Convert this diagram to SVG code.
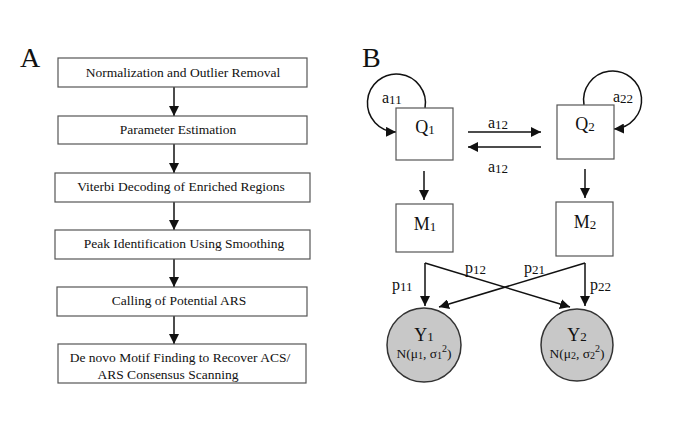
<svg xmlns="http://www.w3.org/2000/svg" width="685" height="440" viewBox="0 0 685 440">
<defs>
<style>
text{font-family:"Liberation Serif","Times New Roman",serif;fill:#111}
.step{font-size:13.5px;text-anchor:middle}
.nm{font-size:13.5px;text-anchor:middle}
.box{fill:#fff;stroke:#555;stroke-width:1.2}
.big{font-size:28px}
.lbl{font-size:18px;text-anchor:middle}
.sub{font-size:13px}
.sm{font-size:16px}
.ln{fill:none;stroke:#111;stroke-width:1.5}
.circ{fill:#c8c8c8;stroke:#333;stroke-width:1.5}
</style>
<marker id="ah" viewBox="0 0 10 10" refX="10" refY="5" markerWidth="10" markerHeight="10" markerUnits="userSpaceOnUse" orient="auto">
<path d="M0,0 L10,5 L0,10 z" fill="#111"/>
</marker>
</defs>
<rect width="685" height="440" fill="#fff"/>
<text class="big" x="20" y="67">A</text>
<text class="big" x="362" y="67">B</text>

<g id="connectors">
<line class="ln" x1="174" y1="87" x2="174" y2="116" marker-end="url(#ah)"/>
<line class="ln" x1="174" y1="144" x2="174" y2="173" marker-end="url(#ah)"/>
<line class="ln" x1="174" y1="202" x2="174" y2="230" marker-end="url(#ah)"/>
<line class="ln" x1="174" y1="259" x2="174" y2="287" marker-end="url(#ah)"/>
<line class="ln" x1="174" y1="316" x2="174" y2="344" marker-end="url(#ah)"/>
<path class="ln" d="M425,108 A29,29 0 1 0 396,132" marker-end="url(#ah)"/>
<path class="ln" d="M584,105 A29,29 0 1 1 614,129" marker-end="url(#ah)"/>
<line class="ln" x1="468" y1="132" x2="541" y2="132" marker-end="url(#ah)"/>
<line class="ln" x1="541" y1="147" x2="468" y2="147" marker-end="url(#ah)"/>
<line class="ln" x1="424" y1="171" x2="424" y2="200" marker-end="url(#ah)"/>
<line class="ln" x1="585" y1="169" x2="585" y2="198" marker-end="url(#ah)"/>
<line class="ln" x1="425" y1="263" x2="425" y2="306" marker-end="url(#ah)"/>
<line class="ln" x1="425" y1="263" x2="570" y2="307" marker-end="url(#ah)"/>
<line class="ln" x1="585" y1="263" x2="585" y2="306" marker-end="url(#ah)"/>
<line class="ln" x1="585" y1="263" x2="439" y2="307" marker-end="url(#ah)"/>
<text class="sm" x="382" y="103">a<tspan class="sub" dy="1">11</tspan></text>
<text class="sm" x="613" y="102">a<tspan class="sub" dy="1">22</tspan></text>
<text class="sm" x="488" y="128">a<tspan class="sub" dy="1">12</tspan></text>
<text class="sm" x="488" y="172">a<tspan class="sub" dy="1">12</tspan></text>
<text class="sm" x="392" y="290">p<tspan class="sub" dy="1">11</tspan></text>
<text class="sm" x="465" y="273">p<tspan class="sub" dy="1">12</tspan></text>
<text class="sm" x="524" y="273">p<tspan class="sub" dy="1">21</tspan></text>
<text class="sm" x="590" y="290">p<tspan class="sub" dy="1">22</tspan></text>
</g>

<g id="step1"><rect class="box" x="58" y="58" width="249" height="29"/><text class="step" x="183" y="77">Normalization and Outlier Removal</text></g>
<g id="step2"><rect class="box" x="58" y="116" width="249" height="28"/><text class="step" x="178" y="134">Parameter Estimation</text></g>
<g id="step3"><rect class="box" x="55" y="173" width="255" height="29"/><text class="step" x="181" y="191">Viterbi Decoding of Enriched Regions</text></g>
<g id="step4"><rect class="box" x="55" y="230" width="255" height="29"/><text class="step" x="184" y="248">Peak Identification Using Smoothing</text></g>
<g id="step5"><rect class="box" x="57" y="287" width="250" height="29"/><text class="step" x="179" y="305">Calling of Potential ARS</text></g>
<g id="step6"><rect class="box" x="58" y="344" width="248" height="39"/><text class="step" x="180" y="362">De novo Motif Finding to Recover ACS/</text><text class="step" x="168" y="379">ARS Consensus Scanning</text></g>

<g id="Q1"><rect class="box" x="396" y="108" width="57" height="52"/><text class="lbl" x="425" y="133">Q<tspan class="sub" dy="1">1</tspan></text></g>
<g id="Q2"><rect class="box" x="557" y="105" width="57" height="54"/><text class="lbl" x="585" y="130">Q<tspan class="sub" dy="1">2</tspan></text></g>
<g id="M1"><rect class="box" x="396" y="204" width="57" height="48"/><text class="lbl" x="425" y="230">M<tspan class="sub" dy="1">1</tspan></text></g>
<g id="M2"><rect class="box" x="556" y="202" width="57" height="54"/><text class="lbl" x="585" y="228">M<tspan class="sub" dy="1">2</tspan></text></g>
<g id="Y1"><circle class="circ" cx="424" cy="345" r="37"/><text class="lbl" x="424" y="341">Y<tspan class="sub" dy="0">1</tspan></text><text class="nm" x="424" y="358">N(μ<tspan font-size="10" dy="1">1</tspan><tspan dy="-1">, σ</tspan><tspan font-size="10" dy="1">1</tspan><tspan font-size="10" dy="-7">2</tspan><tspan dy="6">)</tspan></text></g>
<g id="Y2"><circle class="circ" cx="577" cy="345" r="36"/><text class="lbl" x="577" y="341">Y<tspan class="sub" dy="0">2</tspan></text><text class="nm" x="577" y="358">N(μ<tspan font-size="10" dy="1">2</tspan><tspan dy="-1">, σ</tspan><tspan font-size="10" dy="1">2</tspan><tspan font-size="10" dy="-7">2</tspan><tspan dy="6">)</tspan></text></g>
</svg>
